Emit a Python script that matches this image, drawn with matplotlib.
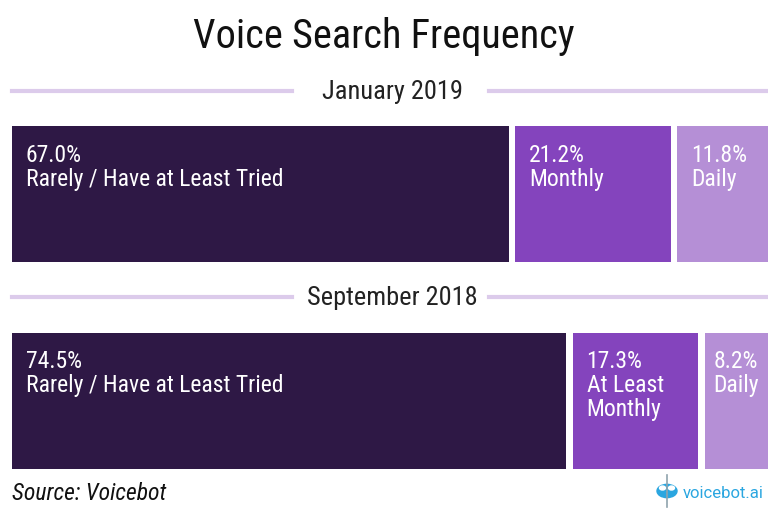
import matplotlib
matplotlib.use("Agg")
import matplotlib.pyplot as plt
from matplotlib.lines import Line2D
from matplotlib.patches import Circle

# data
periods = ["January 2019", "September 2018"]
labels = [["Rarely / Have at Least Tried", "Monthly", "Daily"],
          ["Rarely / Have at Least Tried", "At Least\nMonthly", "Daily"]]
values = [[67.0, 21.2, 11.8],
          [74.5, 17.3, 8.2]]
colors = ["#2e1845", "#8444bd", "#b58fd6"]

plt.rcParams['font.family'] = ['Roboto Condensed', 'Roboto', 'DejaVu Sans']

W, H = 768, 510
fig = plt.figure(figsize=(W / 100, H / 100), dpi=100)

def fx(px):
    return px / W

def fy(py):
    return 1 - py / H

# title
fig.text(fx(384), fy(36), "Voice Search Frequency", ha='center', va='center',
         fontsize=29, color='#111111')

# section headers with lavender rules
header_y = [92, 298]
for name, yy in zip(periods, header_y):
    fig.text(fx(392), fy(yy), name, ha='center', va='center', fontsize=19, color='#222222')
    for x0, x1 in [(12, 292), (489, 768)]:
        fig.add_artist(Line2D([fx(x0), fx(x1)], [fy(yy), fy(yy)], color='#dccbeb',
                              linewidth=3, transform=fig.transFigure))

# bars
ax = fig.add_axes([fx(12), fy(470), fx(756), (470 - 127) / H])
x_lo, x_hi = 1.49, 100.5
gap = 0.85
for i, row in enumerate(values):
    cum = 0
    for j, v in enumerate(row):
        left = cum + gap / 2
        right = cum + v - gap / 2 if j < len(row) - 1 else x_hi
        ax.barh(i, right - left, left=left, height=0.66, color=colors[j], align='center')
        txt = f"{v:.1f}%\n{labels[i][j]}"
        dx = 10 if v > 10 else 6
        ax.annotate(txt, xy=(max(left, x_lo), i - 0.33), xytext=(dx, -12),
                    textcoords='offset points', ha='left', va='top', fontsize=17,
                    color='white', linespacing=1.05)
        cum += v
ax.set_xlim(x_lo, x_hi)
ax.set_ylim(1.33, -0.33)
ax.axis('off')

# footer
fig.text(fx(12), fy(494), "Source: Voicebot", ha='left', va='center', fontsize=17,
         style='italic', color='#111111')
fig.text(fx(764), fy(494), "voicebot.ai", ha='right', va='center', fontsize=12,
         color='#2aa6e0', family=['Roboto', 'DejaVu Sans'])
# small robot mark
fig.add_artist(Line2D([fx(667), fx(667)], [fy(476), fy(508)], color='#8fa3ad',
                      linewidth=1.2, transform=fig.transFigure))
fig.add_artist(Circle((fx(667), fy(492)), 10 / W, transform=fig.transFigure,
                      color='#2aa6e0'))
for ex in (662.5, 671.5):
    fig.add_artist(Circle((fx(ex), fy(489)), 3 / W, transform=fig.transFigure,
                          color='white'))

fig.savefig("out.png", dpi=100)
